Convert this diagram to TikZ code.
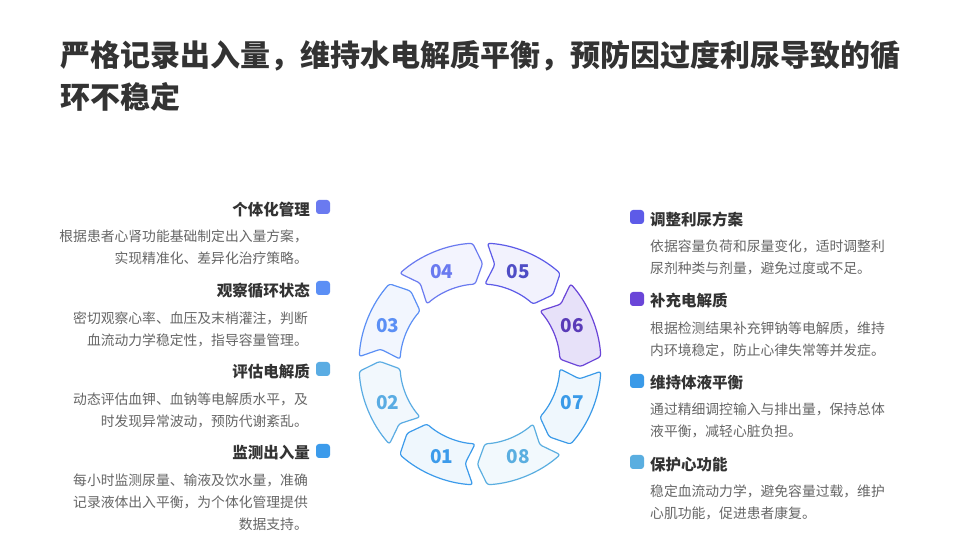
\documentclass[tikz,border=0pt]{standalone}
\usepackage{fontspec}
\setmainfont{Noto Sans CJK SC}
\usepackage{tikz}
\definecolor{c01}{HTML}{3C9BEB}
\definecolor{c02}{HTML}{5AACE3}
\definecolor{c03}{HTML}{5B8FF5}
\definecolor{c04}{HTML}{6A7AF0}
\definecolor{c05}{HTML}{5D5BE8}
\definecolor{c06}{HTML}{6A45D8}
\definecolor{c07}{HTML}{3A9AE8}
\definecolor{c08}{HTML}{5AAEE0}
\definecolor{ink}{HTML}{333333}
\definecolor{note}{HTML}{666666}
\tikzset{
  every picture/.style={line join=round, line cap=round},
  pics/ringseg/.style n args={3}{code={
    \draw[#2, line width=1.2pt, fill=#2!#3, rounded corners=2.5pt]
      (#1+19:121) arc[start angle=#1+19, end angle=#1-19, radius=121]
      -- (#1-24:100.5) -- (#1-19:80)
      arc[start angle=#1-19, end angle=#1+19, radius=80]
      -- (#1+14:100.5) -- cycle;
  }},
  segnum/.style={font=\bfseries\fontsize{19}{19}\selectfont},
  tagbox/.style={minimum size=14pt, inner sep=0pt, rounded corners=3pt},
  headline/.style={inner sep=0pt, text=ink, font=\bfseries\fontsize{15.5}{18}\selectfont},
  noteleft/.style={anchor=north east, align=right, inner sep=0pt, text=note,
    font=\fontsize{13.8}{22}\selectfont},
  noteright/.style={anchor=north west, align=left, inner sep=0pt, text=note,
    font=\fontsize{13.8}{22}\selectfont},
}

\begin{document}
\begin{tikzpicture}[x=1pt, y=1pt]
\useasboundingbox (0,0) rectangle (960,540);
\fill[white] (0,0) rectangle (960,540);
\node[anchor=north west, align=left, inner sep=0pt, text=ink,
  font=\bfseries\fontsize{30}{42}\selectfont] (title) at (60,500)
  {严格记录出入量，维持水电解质平衡，预防因过度利尿导致的循\\环不稳定};
% ring
\begin{scope}[shift={(480,176)}]
  \pic {ringseg={247.5}{c01}{8}};
  \pic {ringseg={202.5}{c02}{8}};
  \pic {ringseg={157.5}{c03}{8}};
  \pic {ringseg={112.5}{c04}{8}};
  \pic {ringseg={67.5}{c05}{8}};
  \pic {ringseg={22.5}{c06}{16}};
  \pic {ringseg={-22.5}{c07}{8}};
  \pic {ringseg={-67.5}{c08}{8}};
  \node[segnum, text=c01] (n01) at (247.5:100) {01};
  \node[segnum, text=c02] (n02) at (202.5:100) {02};
  \node[segnum, text=c03] (n03) at (157.5:100) {03};
  \node[segnum, text=c04] (n04) at (112.5:100) {04};
  \node[segnum, text=c05!85!black] (n05) at (67.5:100) {05};
  \node[segnum, text=c06!85!black] (n06) at (22.5:100) {06};
  \node[segnum, text=c07] (n07) at (-22.5:100) {07};
  \node[segnum, text=c08] (n08) at (-67.5:100) {08};
\end{scope}
% left column
\node[tagbox, fill=c04] (m04) at (323,333) {};
\node[headline, anchor=east] (h04) at (310,330) {个体化管理};
\node[noteleft] (d04) at (308,310) {根据患者心肾功能基础制定出入量方案，\\实现精准化、差异化治疗策略。};
\node[tagbox, fill=c03] (m03) at (323,252) {};
\node[headline, anchor=east] (h03) at (310,249) {观察循环状态};
\node[noteleft] (d03) at (308,228) {密切观察心率、血压及末梢灌注，判断\\血流动力学稳定性，指导容量管理。};
\node[tagbox, fill=c02] (m02) at (323,171) {};
\node[headline, anchor=east] (h02) at (310,168) {评估电解质};
\node[noteleft] (d02) at (308,147) {动态评估血钾、血钠等电解质水平，及\\时发现异常波动，预防代谢紊乱。};
\node[tagbox, fill=c01] (m01) at (323,89) {};
\node[headline, anchor=east] (h01) at (310,87) {监测出入量};
\node[noteleft] (d01) at (308,66) {每小时监测尿量、输液及饮水量，准确\\记录液体出入平衡，为个体化管理提供\\数据支持。};
% right column
\node[tagbox, fill=c05] (m05) at (637,323) {};
\node[headline, anchor=west] (h05) at (650,320) {调整利尿方案};
\node[noteright] (d05) at (650,300) {依据容量负荷和尿量变化，适时调整利\\尿剂种类与剂量，避免过度或不足。};
\node[tagbox, fill=c06] (m06) at (637,241) {};
\node[headline, anchor=west] (h06) at (650,239) {补充电解质};
\node[noteright] (d06) at (650,218) {根据检测结果补充钾钠等电解质，维持\\内环境稳定，防止心律失常等并发症。};
\node[tagbox, fill=c07] (m07) at (637,159) {};
\node[headline, anchor=west] (h07) at (650,157) {维持体液平衡};
\node[noteright] (d07) at (650,137) {通过精细调控输入与排出量，保持总体\\液平衡，减轻心脏负担。};
\node[tagbox, fill=c08] (m08) at (637,78) {};
\node[headline, anchor=west] (h08) at (650,75) {保护心功能};
\node[noteright] (d08) at (650,55) {稳定血流动力学，避免容量过载，维护\\心肌功能，促进患者康复。};
\end{tikzpicture}
\end{document}
